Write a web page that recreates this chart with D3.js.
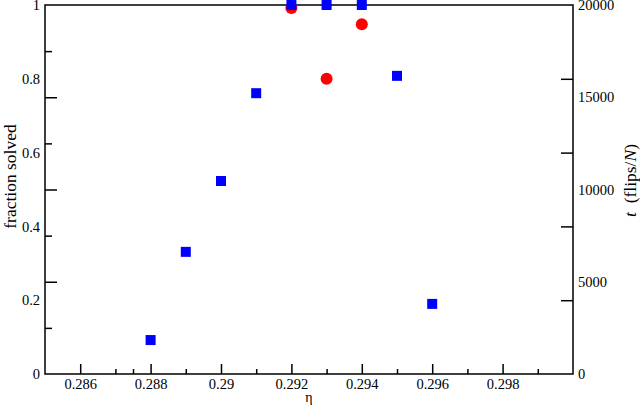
<!DOCTYPE html>
<html><head><meta charset="utf-8">
<script src="https://cdn.jsdelivr.net/npm/d3@7"></script>
<style>body{margin:0;background:#fff}svg{display:block}</style>
</head><body><svg id="c" width="640" height="407"></svg>
<script>
// data
const etaSquares = [0.288, 0.289, 0.290, 0.291, 0.292, 0.293, 0.294, 0.295, 0.296];
const fracSolved = [0.092, 0.331, 0.523, 0.761, 1.0, 1.0, 1.0, 0.808, 0.19];
const etaCircles = [0.292, 0.293, 0.294];
const flipsTime = [19840, 16000, 18960];
const xMajorTicks = [0.286, 0.288, 0.290, 0.292, 0.294, 0.296, 0.298];
const xMinorTicks = [0.287, 0.2875, 0.289, 0.291, 0.293, 0.295, 0.297, 0.299];
const xTickLabels = ["0.286", "0.288", "0.29", "0.292", "0.294", "0.296", "0.298"];
const leftTickValues = [0, 0.2, 0.4, 0.6, 0.8, 1];
const leftTickLabels = ["0", "0.2", "0.4", "0.6", "0.8", "1"];
const rightTickValues = [0, 5000, 10000, 15000, 20000];
const rightTickLabels = ["0", "5000", "10000", "15000", "20000"];
const rightMinorValues = [2500, 7500, 12500, 17500];

const FONT = "'Liberation Serif'";
const svg = d3.select("#c");
const L = 45, R = 573, T = 5, B = 374;
const x = d3.scaleLinear().domain([0.285, 0.300]).range([L, R]);
const yL = d3.scaleLinear().domain([0, 1]).range([B, T]);
const yR = d3.scaleLinear().domain([0, 20000]).range([B, T]);
const fs = "14.5px";

function style(g){
  g.attr("font-family", null).attr("font-size", null);
  g.select(".domain").remove();
  g.selectAll("line").attr("stroke", "#000").attr("stroke-width", 1.5);
  g.selectAll("text").style("font-family", FONT).style("font-size", fs).attr("fill", "#000");
}

// bottom axis
svg.append("g").attr("transform", `translate(0,${B})`)
  .call(d3.axisBottom(x).tickValues(xMajorTicks).tickSize(-10).tickPadding(5)
    .tickFormat((d,i) => xTickLabels[i])).call(style);
svg.append("g").attr("transform", `translate(0,${B})`)
  .call(d3.axisBottom(x).tickValues(xMinorTicks).tickSize(-5).tickFormat("")).call(style);

// left labels (no marks)
svg.append("g").attr("transform", `translate(${L},0)`)
  .call(d3.axisLeft(yL).tickValues(leftTickValues).tickSize(0).tickPadding(5)
    .tickFormat((d,i) => leftTickLabels[i])).call(style);
// left marks (at right-axis values)
svg.append("g").attr("transform", `translate(${L},0)`)
  .call(d3.axisRight(yR).tickValues(rightTickValues.slice(1, -1)).tickSize(12).tickFormat("")).call(style);
svg.append("g").attr("transform", `translate(${L},0)`)
  .call(d3.axisRight(yR).tickValues(rightMinorValues).tickSize(7).tickFormat("")).call(style);

// right labels (no marks)
svg.append("g").attr("transform", `translate(${R},0)`)
  .call(d3.axisRight(yR).tickValues(rightTickValues).tickSize(0).tickPadding(5)
    .tickFormat((d,i) => rightTickLabels[i])).call(style);
// right marks (at left-axis values)
svg.append("g").attr("transform", `translate(${R},0)`)
  .call(d3.axisLeft(yL).tickValues(leftTickValues.slice(1, -1)).tickSize(12).tickFormat("")).call(style);

// frame
svg.append("rect").attr("x", L).attr("y", T).attr("width", R - L).attr("height", B - T)
  .attr("fill", "none").attr("stroke", "#000").attr("stroke-width", 1.5);

// red circles (t, right axis)
svg.append("g").selectAll("circle").data(etaCircles).join("circle")
  .attr("cx", d => x(d)).attr("cy", (d,i) => yR(flipsTime[i])).attr("r", 6).attr("fill", "#ff0000");

// blue squares (fraction solved)
const sq = 10;
svg.append("g").selectAll("rect").data(etaSquares).join("rect")
  .attr("x", d => x(d) - sq/2).attr("y", (d,i) => yL(fracSolved[i]) - sq/2)
  .attr("width", sq).attr("height", sq).attr("fill", "#0000ff");

// titles
svg.append("text").attr("transform", `translate(16,${(T+B)/2 - 13}) rotate(-90)`)
  .attr("text-anchor", "middle").style("font-family", FONT).style("font-size", "17.5px").attr("fill", "#000").text("fraction solved");
const rt = svg.append("text").attr("transform", `translate(636,${(T+B)/2 - 9}) rotate(-90)`)
  .attr("text-anchor", "middle").style("font-family", FONT).style("font-size", "17.5px").attr("fill", "#000");
rt.append("tspan").style("font-style", "italic").text("t");
rt.append("tspan").text("\u00a0 (flips/");
rt.append("tspan").style("font-style", "italic").text("N");
rt.append("tspan").text(")");
svg.append("text").attr("x", (L+R)/2).attr("y", 402).attr("text-anchor", "middle")
  .style("font-family", FONT).style("font-size", "14px").attr("fill", "#000").text("η");
</script></body></html>
